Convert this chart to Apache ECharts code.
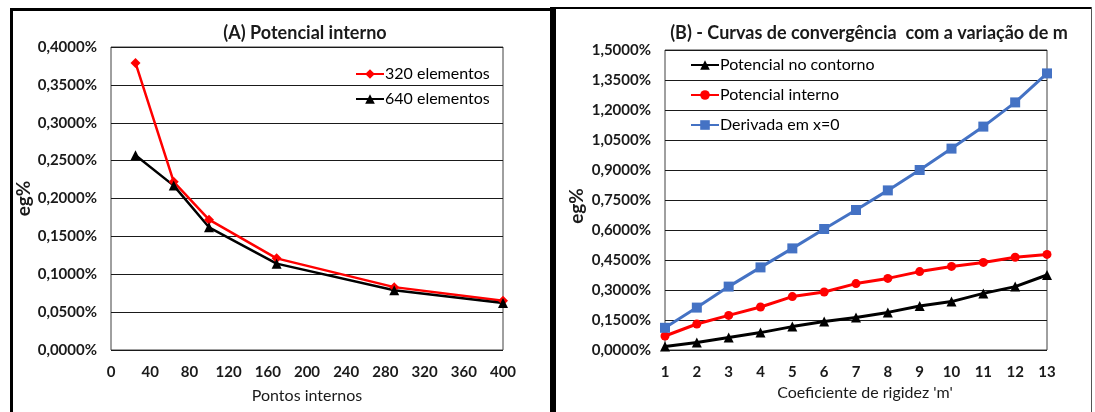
<!DOCTYPE html>
<html>
<head>
    <meta charset="utf-8">
    <title>Curvas de convergência</title>
    <script src="https://cdn.jsdelivr.net/npm/echarts@6/dist/echarts.min.js"></script>
    <style>
        html, body { margin: 0; padding: 0; background: #fff; }
    </style>
</head>
<body>
    <div id="main" style="width: 1095px;height:412px;"></div>
    <script type="text/javascript">
        // (A) erro em funcao dos pontos internos
        var pontosInternos = [25, 64, 100, 169, 289, 400];
        var elementos320 = [0.379, 0.222, 0.172, 0.121, 0.083, 0.065];
        var elementos640 = [0.257, 0.217, 0.162, 0.114, 0.079, 0.062];

        // (B) erro em funcao do coeficiente m
        var coefM = [1, 2, 3, 4, 5, 6, 7, 8, 9, 10, 11, 12, 13];
        var potContorno = [0.017, 0.037, 0.063, 0.087, 0.117, 0.142, 0.163, 0.188, 0.220, 0.242, 0.283, 0.317, 0.375];
        var potInterno = [0.070, 0.130, 0.173, 0.215, 0.267, 0.290, 0.332, 0.358, 0.392, 0.418, 0.438, 0.464, 0.478];
        var derivadaX0 = [0.111, 0.212, 0.317, 0.413, 0.508, 0.605, 0.700, 0.798, 0.900, 1.007, 1.117, 1.238, 1.383];

        var fonte = 'Lato, "Open Sans", sans-serif';
        var pct = function (v) {
            return v.toFixed(4).replace('.', ',') + '%';
        };
        var pares = function (xs, ys) {
            return xs.map(function (x, i) { return [x, ys[i]]; });
        };

        var myChart = echarts.init(document.getElementById('main'));

        var eixoTexto = { color: '#1a1a1a', fontFamily: fonte, fontSize: 15, fontWeight: 'bold' };
        var nomeEixo = { color: '#1a1a1a', fontFamily: fonte, fontSize: 16 };
        var nomeY = { color: '#1a1a1a', fontFamily: fonte, fontSize: 19, fontWeight: 'bold' };

        option = {
            backgroundColor: '#fff',
            animation: false,
            title: [{
                text: '(A) Potencial interno',
                left: 300, top: 19, textAlign: 'center',
                textStyle: { color: '#1a1a1a', fontFamily: fonte, fontSize: 18, fontWeight: 'bold' }
            }, {
                text: '(B) - Curvas de convergência  com a variação de m',
                left: 864, top: 19, textAlign: 'center',
                textStyle: { color: '#1a1a1a', fontFamily: fonte, fontSize: 18, fontWeight: 'bold' }
            }],
            legend: [{
                orient: 'vertical',
                left: 350, top: 61,
                itemWidth: 28, itemHeight: 12, itemGap: 9,
                textStyle: { color: '#000', fontFamily: fonte, fontSize: 16, padding: [0, 0, 0, -4] },
                data: ['320 elementos', '640 elementos']
            }, {
                orient: 'vertical',
                left: 685, top: 52,
                itemWidth: 28, itemHeight: 12, itemGap: 14,
                textStyle: { color: '#000', fontFamily: fonte, fontSize: 16, padding: [0, 0, 0, -4] },
                data: ['Potencial no contorno', 'Potencial interno', 'Derivada em x=0']
            }],
            grid: [{
                left: 111, top: 47, width: 392, height: 303,
                show: true, borderColor: '#404040', borderWidth: 1, backgroundColor: '#fff'
            }, {
                left: 665, top: 50, width: 382, height: 300,
                show: true, borderColor: '#404040', borderWidth: 1, backgroundColor: '#fff'
            }],
            xAxis: [{
                gridIndex: 0, type: 'value', min: 0, max: 400, interval: 40,
                name: 'Pontos internos', nameLocation: 'middle', nameGap: 38,
                nameTextStyle: nomeEixo,
                axisLine: { show: false }, axisTick: { show: false }, splitLine: { show: false },
                axisLabel: Object.assign({ margin: 15 }, eixoTexto)
            }, {
                gridIndex: 1, type: 'value', min: 1, max: 13, interval: 1,
                name: "Coeficiente de rigidez 'm'", nameLocation: 'middle', nameGap: 34,
                nameTextStyle: Object.assign({ padding: [0, 0, 0, 18] }, nomeEixo),
                axisLine: { show: false }, axisTick: { show: false }, splitLine: { show: false },
                axisLabel: Object.assign({ margin: 15 }, eixoTexto)
            }],
            yAxis: [{
                gridIndex: 0, type: 'value', min: 0, max: 0.4, interval: 0.05,
                name: 'eg%', nameLocation: 'middle', nameRotate: 90, nameGap: 76,
                nameTextStyle: nomeY,
                axisLine: { show: false }, axisTick: { show: false },
                splitLine: { lineStyle: { color: '#1a1a1a', width: 1 } },
                axisLabel: Object.assign({ margin: 14, formatter: pct }, eixoTexto)
            }, {
                gridIndex: 1, type: 'value', min: 0, max: 1.5, interval: 0.15,
                name: 'eg%', nameLocation: 'middle', nameRotate: 90, nameGap: 79,
                nameTextStyle: Object.assign({ padding: [0, 12, 0, 0] }, nomeY),
                axisLine: { show: false }, axisTick: { show: false },
                splitLine: { lineStyle: { color: '#1a1a1a', width: 1 } },
                axisLabel: Object.assign({ margin: 14, formatter: pct }, eixoTexto)
            }],
            series: [{
                name: '320 elementos', type: 'line', xAxisIndex: 0, yAxisIndex: 0,
                data: pares(pontosInternos, elementos320),
                symbol: 'diamond', symbolSize: 10,
                itemStyle: { color: '#ff0000' }, lineStyle: { color: '#ff0000', width: 2.5 }
            }, {
                name: '640 elementos', type: 'line', xAxisIndex: 0, yAxisIndex: 0,
                data: pares(pontosInternos, elementos640),
                symbol: 'triangle', symbolSize: 10,
                itemStyle: { color: '#000' }, lineStyle: { color: '#000', width: 2.5 }
            }, {
                name: 'Potencial no contorno', type: 'line', xAxisIndex: 1, yAxisIndex: 1,
                data: pares(coefM, potContorno),
                symbol: 'triangle', symbolSize: 10,
                itemStyle: { color: '#000' }, lineStyle: { color: '#000', width: 3 }
            }, {
                name: 'Potencial interno', type: 'line', xAxisIndex: 1, yAxisIndex: 1,
                data: pares(coefM, potInterno),
                symbol: 'circle', symbolSize: 9,
                itemStyle: { color: '#ff0000' }, lineStyle: { color: '#ff0000', width: 3 }
            }, {
                name: 'Derivada em x=0', type: 'line', xAxisIndex: 1, yAxisIndex: 1,
                data: pares(coefM, derivadaX0),
                symbol: 'rect', symbolSize: 10,
                itemStyle: { color: '#4472c4' }, lineStyle: { color: '#4472c4', width: 3 }
            }],
            // molduras dos dois paineis
            graphic: [
                { type: 'rect', shape: { x: 10, y: 8, width: 3, height: 404 }, style: { fill: '#000' } },
                { type: 'rect', shape: { x: 10, y: 8, width: 546, height: 3 }, style: { fill: '#000' } },
                { type: 'rect', shape: { x: 550, y: 7, width: 6, height: 405 }, style: { fill: '#000' } },
                { type: 'rect', shape: { x: 556, y: 7, width: 536, height: 2 }, style: { fill: '#000' } },
                { type: 'rect', shape: { x: 1091, y: 7, width: 1, height: 405 }, style: { fill: '#555' } }
            ]
        };

        myChart.setOption(option);
    </script>
</body>
</html>
